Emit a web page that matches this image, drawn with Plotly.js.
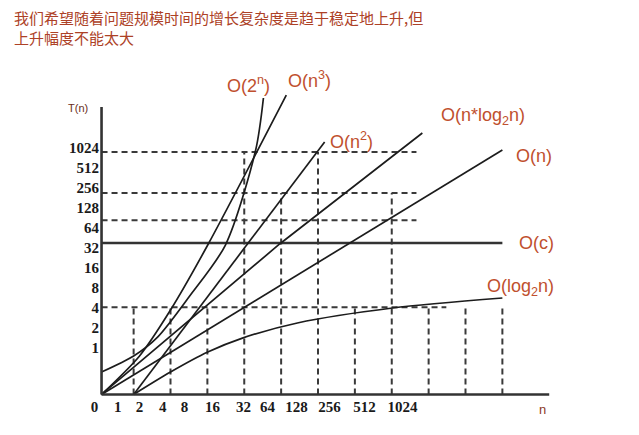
<!DOCTYPE html>
<html><head><meta charset="utf-8">
<script src="https://cdn.plot.ly/plotly-3.0.1.min.js"></script>
<style>html,body{margin:0;padding:0;background:#fff}#chart{width:639px;height:435px}</style>
</head><body><div id="chart"></div>
<script>
// ---------- data (axis units: x = grid column, y = T(n) on a log2 scale) ----------
const xTickText = ["0","1","2","4","8","16","32","64","128","256","512","1024"];
const xTickVals = [-0.06,0.57,1.16,1.79,2.38,3.14,3.98,4.63,5.42,6.31,7.26,8.29];
const yTickVals = [1,2,4,8,16,32,64,128,256,512,1024];
const yTickText = ["1","2","4","8","16","32","64","128","256","512","1024"];

const originX = 0.13, originT = 0.2;
const axisEndX = 12.27, axisTopT = 4240;

const cX = [0.13, 11.0],  cT = [38, 38];                       // O(c)
const nX = [0.13, 11.0],  nT = [0.2, 955];                     // O(n)
const nlognX = [0.13, 4.96, 8.83], nlognT = [0.2, 36.8, 1722]; // O(n*log2n)
const n2X = [1.0, 6.18],  n2T = [0.2, 1261];                   // O(n^2)
const n3X = [0.13, 1.16, 2.0, 3.01, 5.14], n3T = [0.2, 0.76, 3.73, 35.5, 6400]; // O(n^3)
const expX = [0.13, 1.0, 1.65, 2.52, 3.49, 4.31, 4.52];
const expT = [0.435, 0.758, 1.46, 6.06, 35.5, 955, 5793];     // O(2^n)
const logX = [1.0, 2.0, 3.01, 3.95, 5.44, 8.02, 11.0];
const logT = [0.2, 0.435, 0.87, 1.41, 2.38, 4.0, 5.66];      // O(log2n)

const gridX   = [1,2,3,4,5,6,7,8,9,10,11];
const gridTop = [4.1,4.1,4.1,891,215,891,4.1,215,4.1,4.1,4.1];
const hLevel  = [891, 215, 84, 4.1];
const hEnd    = [8.67, 8.67, 8.67, 9.48];

// ---------- build ----------
const curveColor = '#1c1c1c';
const dashStyle = {color:'#3a3a3a', width:2, dash:'6px,4px'};
const traces = [];

// dashed guide lines
const vx = [], vy = [];
gridX.forEach((x,i)=>{ vx.push(x,x,null); vy.push(originT,gridTop[i],null); });
traces.push({x:vx, y:vy, mode:'lines', line:dashStyle, hoverinfo:'skip'});
const hx = [], hy = [];
hLevel.forEach((t,i)=>{ hx.push(originX,hEnd[i],null); hy.push(t,t,null); });
traces.push({x:hx, y:hy, mode:'lines', line:dashStyle, hoverinfo:'skip'});

// curves
traces.push({x:cX, y:cT, mode:'lines', line:{color:'#333', width:2.4}});
traces.push({x:nX, y:nT, mode:'lines', line:{color:curveColor, width:1.7}});
traces.push({x:nlognX, y:nlognT, mode:'lines', line:{color:curveColor, width:1.7}});
traces.push({x:n2X, y:n2T, mode:'lines', line:{color:curveColor, width:1.7}});
traces.push({x:n3X, y:n3T, mode:'lines', line:{color:curveColor, width:1.7, shape:'spline', smoothing:0.8}});
traces.push({x:expX, y:expT, mode:'lines', line:{color:curveColor, width:1.7, shape:'spline', smoothing:0.8}});
traces.push({x:logX, y:logT, mode:'lines', line:{color:curveColor, width:1.7, shape:'spline', smoothing:0.8}});

// axes lines
traces.push({x:[originX, originX], y:[axisTopT, originT], mode:'lines', line:{color:'#333', width:2.6}, hoverinfo:'skip'});
traces.push({x:[originX, axisEndX], y:[originT, originT], mode:'lines', line:{color:'#333', width:2.6}, hoverinfo:'skip'});

// ---------- layout ----------
const L = 82, R = 84.72, T = 90, B = 39, W = 639, H = 435;
const pw = W - L - R, ph = H - T - B;
const px2x = p => (p - L) / pw;
const py2y = p => (H - B - p) / ph;

const labelFont = {family:'Liberation Sans, Arial, sans-serif', size:18, color:'#c0502e'};
function lab(text, px, py, font){ return {text, x:px2x(px), y:py2y(py), xref:'paper', yref:'paper', xanchor:'center', yanchor:'middle', showarrow:false, font:font||labelFont}; }
const titleFont = {family:'Noto Sans CJK SC, sans-serif', size:15, color:'#ad4126'};

const annotations = [
  {text:'我们希望随着问题规模时间的增长复杂度是趋于稳定地上升,但<br>上升幅度不能太大', align:'left',
   x:px2x(12), y:py2y(5), xref:'paper', yref:'paper', xanchor:'left', yanchor:'top', showarrow:false, font:titleFont},
  lab('T(n)', 78, 108, {family:'Liberation Sans, Arial, sans-serif', size:11, color:'#6a2e20'}),
  lab('n', 543, 409, {family:'Liberation Sans, Arial, sans-serif', size:13, color:'#8a3a24'}),
  lab('O(2<sup>n</sup>)', 249, 84),
  lab('O(n<sup>3</sup>)', 310, 80),
  lab('O(n<sup>2</sup>)', 352, 140),
  lab('O(n*log<sub>2</sub>n)', 483, 116),
  lab('O(n)', 534, 156),
  lab('O(c)', 537, 243),
  lab('O(log<sub>2</sub>n)', 521, 287)
];

const tickFont = {family:'Liberation Serif, Times New Roman, serif', size:15, color:'#1a1a1a', weight:'bold'};
const layout = {
  width:W, height:H,
  margin:{l:L, r:R, t:T, b:B, pad:0},
  paper_bgcolor:'#fff', plot_bgcolor:'#fff',
  showlegend:false,
  xaxis:{range:[-0.4, 12.4], showgrid:false, zeroline:false, showline:false, ticks:'',
         tickmode:'array', tickvals:xTickVals, ticktext:xTickText, tickfont:tickFont, ticklabelstandoff:0},
  yaxis:{type:'log', range:[-2.4*Math.LOG10E*Math.LN2, 12.9*Math.LOG10E*Math.LN2], showgrid:false, zeroline:false, showline:false, ticks:'',
         tickmode:'array', tickvals:yTickVals, ticktext:yTickText, tickfont:tickFont, ticklabelstandoff:-18},
  annotations
};
Plotly.newPlot('chart', traces, layout, {displayModeBar:false, staticPlot:true});
</script>
</body></html>
